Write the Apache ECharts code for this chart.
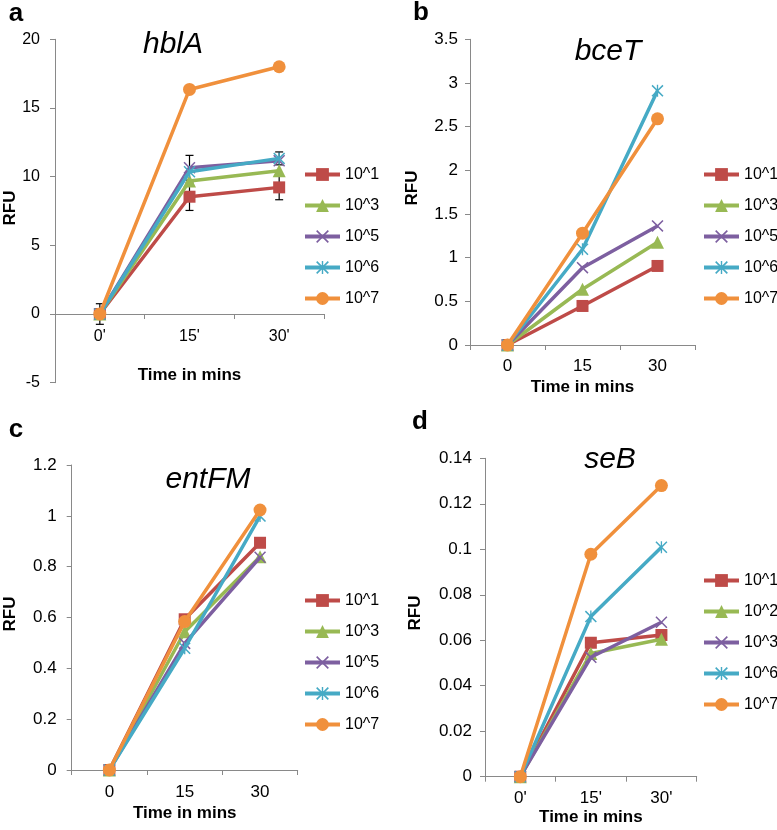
<!DOCTYPE html>
<html>
<head>
<meta charset="utf-8">
<script src="https://cdn.jsdelivr.net/npm/echarts@6/dist/echarts.min.js"></script>
<style>html,body{margin:0;padding:0;background:#fff}#c{width:777px;height:830px}</style>
</head>
<body>
<div id="c"></div>
<script>
// ---- categories / tick labels ----
const timesA = ["0'", "15'", "30'"];
const timesB = ["0", "15", "30"];
const timesC = ["0", "15", "30"];
const timesD = ["0'", "15'", "30'"];
const legendABC = ['10^1', '10^3', '10^5', '10^6', '10^7'];
const legendD = ['10^1', '10^2', '10^3', '10^6', '10^7'];

// ---- panel a: hblA ----
const hblA_1 = [0, 8.54, 9.22];
const hblA_3 = [0, 9.68, 10.43];
const hblA_5 = [0, 10.65, 11.16];
const hblA_6 = [0, 10.36, 11.33];
const hblA_7 = [0, 16.35, 18.0];
// error bars (panel a)
const hblA_err1 = [0.75, 1.0, 0.9];
const hblA_err5 = [0, 0.9, 0];
const hblA_err6 = [0, 0, 0.47];

// ---- panel b: bceT ----
const bceT_1 = [0, 0.447, 0.905];
const bceT_3 = [0, 0.638, 1.176];
const bceT_5 = [0, 0.885, 1.363];
const bceT_6 = [0, 1.096, 2.91];
const bceT_7 = [0, 1.28, 2.59];

// ---- panel c: entFM ----
const entFM_1 = [0, 0.593, 0.894];
const entFM_3 = [0, 0.544, 0.839];
const entFM_5 = [0, 0.498, 0.837];
const entFM_6 = [0, 0.479, 0.999];
const entFM_7 = [0, 0.584, 1.023];

// ---- panel d: seB ----
const seB_1 = [0, 0.0589, 0.0623];
const seB_2 = [0, 0.0542, 0.0604];
const seB_3 = [0, 0.0525, 0.0679];
const seB_6 = [0, 0.0704, 0.1009];
const seB_7 = [0, 0.0978, 0.128];

const COLORS = ['#BE4B48', '#98B954', '#7D5FA0', '#46AAC5', '#F0903C'];
const X_PATH = 'path://M0,0.9 L0.9,0 L5,4.1 L9.1,0 L10,0.9 L5.9,5 L10,9.1 L9.1,10 L5,5.9 L0.9,10 L0,9.1 L4.1,5 Z';
const STAR_PATH = X_PATH.replace(' Z', ' Z M4.45,0 L5.55,0 L5.55,10 L4.45,10 Z');
const SYMBOLS = [
  {symbol: 'rect', size: 12},
  {symbol: 'triangle', size: 13},
  {symbol: X_PATH, size: 12},
  {symbol: STAR_PATH, size: 12},
  {symbol: 'circle', size: 13}
];
const FONT = 'Liberation Sans, Arial, Helvetica, sans-serif';

const panels = [
  {key: 'a', cats: timesA, names: legendABC, data: [hblA_1, hblA_3, hblA_5, hblA_6, hblA_7],
   grid: {left: 55, top: 39.3, width: 269, height: 343.4}, y: {min: -5, max: 20, interval: 5},
   yMargin: 15, xMargin: 15, nameGap: 53, tickFont: 16, xOffset: -343.4 / 25 * 5,
   legend: {left: 303, top: 166.5}},
  {key: 'b', cats: timesB, names: legendABC, data: [bceT_1, bceT_3, bceT_5, bceT_6, bceT_7],
   grid: {left: 470, top: 39.3, width: 225, height: 305.7}, y: {min: 0, max: 3.5, interval: 0.5},
   yMargin: 12, xMargin: 13, nameGap: 34, tickFont: 17, xOffset: 0,
   legend: {left: 702, top: 166.5}},
  {key: 'c', cats: timesC, names: legendABC, data: [entFM_1, entFM_3, entFM_5, entFM_6, entFM_7],
   grid: {left: 71.7, top: 465, width: 226, height: 305}, y: {min: 0, max: 1.2, interval: 0.2},
   yMargin: 15, xMargin: 14, nameGap: 35, tickFont: 17, xOffset: 0,
   legend: {left: 303, top: 592.5}},
  {key: 'd', cats: timesD, names: legendD, data: [seB_1, seB_2, seB_3, seB_6, seB_7],
   grid: {left: 485, top: 458.3, width: 211.7, height: 318.4}, y: {min: 0, max: 0.14, interval: 0.02},
   yMargin: 13, xMargin: 13, nameGap: 32, tickFont: 17, xOffset: 0,
   legend: {left: 702, top: 572.5}}
];

const axisColor = '#898989';
const option = {
  animation: false,
  backgroundColor: '#fff',
  textStyle: {fontFamily: FONT},
  grid: [], xAxis: [], yAxis: [], legend: [], series: [], graphic: []
};

panels.forEach((p, i) => {
  option.grid.push(Object.assign({outerBoundsMode: 'none', containLabel: false}, p.grid));
  option.xAxis.push({
    type: 'category', gridIndex: i, data: p.cats, boundaryGap: true, position: 'bottom', offset: p.xOffset,
    name: 'Time in mins', nameLocation: 'middle', nameGap: p.nameGap,
    nameTextStyle: {fontFamily: FONT, fontWeight: 'bold', fontSize: 17, color: '#000', verticalAlign: 'top'},
    axisLine: {show: true, onZero: false, lineStyle: {color: axisColor, width: 1}},
    axisTick: {show: true, length: 5, lineStyle: {color: axisColor}},
    axisLabel: {fontFamily: FONT, fontSize: p.tickFont, color: '#000', margin: p.xMargin},
    splitLine: {show: false}
  });
  option.yAxis.push({
    type: 'value', gridIndex: i, min: p.y.min, max: p.y.max, interval: p.y.interval,
    axisLine: {show: true, lineStyle: {color: axisColor, width: 1}},
    axisTick: {show: true, length: 5, lineStyle: {color: axisColor}},
    axisLabel: {fontFamily: FONT, fontSize: p.tickFont, color: '#000', margin: p.yMargin},
    splitLine: {show: false}
  });
  option.legend.push({
    orient: 'vertical', left: p.legend.left, top: p.legend.top, padding: 0,
    itemWidth: 35, itemHeight: 16, itemGap: 15, selectedMode: false,
    lineStyle: {width: 4},
    data: p.names.map(n => p.key + '|' + n),
    formatter: n => n.split('|')[1],
    textStyle: {fontFamily: FONT, fontSize: 16, color: '#000', lineHeight: 16}
  });
  p.names.forEach((n, j) => {
    option.series.push({
      type: 'line', name: p.key + '|' + n, xAxisIndex: i, yAxisIndex: i,
      data: p.data[j], symbol: SYMBOLS[j].symbol, symbolSize: SYMBOLS[j].size,
      showAllSymbol: true, color: COLORS[j],
      lineStyle: {width: 3.5, color: COLORS[j]}, itemStyle: {color: COLORS[j]},
      z: 3 + j
    });
  });
});

// error bars for panel a
const errData = [];
[[hblA_1, hblA_err1], [hblA_5, hblA_err5], [hblA_6, hblA_err6]].forEach(([vals, errs]) => {
  vals.forEach((v, k) => { if (errs[k] > 0) errData.push([k, v, errs[k]]); });
});
option.series.push({
  type: 'custom', xAxisIndex: 0, yAxisIndex: 0, data: errData, z: 2,
  encode: {x: 0, y: 1}, silent: true,
  renderItem: (params, api) => {
    const x = api.value(0), v = api.value(1), e = api.value(2);
    const hi = api.coord([x, v + e]), lo = api.coord([x, v - e]);
    const w = 4, st = {stroke: '#000', lineWidth: 1.2};
    return {type: 'group', children: [
      {type: 'line', shape: {x1: hi[0], y1: hi[1], x2: lo[0], y2: lo[1]}, style: st},
      {type: 'line', shape: {x1: hi[0] - w, y1: hi[1], x2: hi[0] + w, y2: hi[1]}, style: st},
      {type: 'line', shape: {x1: lo[0] - w, y1: lo[1], x2: lo[0] + w, y2: lo[1]}, style: st}
    ]};
  }
});

function txt(x, y, text, font, rot) {
  return {type: 'text', x: x, y: y, rotation: rot || 0, z: 10,
    style: {text: text, font: font, fill: '#000', align: 'center', verticalAlign: 'middle',
            textAlign: 'center', textVerticalAlign: 'middle'}};
}
const titleFont = 'italic 30px ' + FONT;
const letterFont = 'bold 26px ' + FONT;
const rfuFont = 'bold 17px ' + FONT;
option.graphic = [
  txt(16, 14, 'a', letterFont), txt(421, 13, 'b', letterFont),
  txt(16, 430, 'c', letterFont), txt(420, 422, 'd', letterFont),
  txt(173, 45, 'hblA', titleFont), txt(608, 52, 'bceT', titleFont),
  txt(208, 480, 'entFM', titleFont), txt(610, 460, 'seB', titleFont),
  txt(10, 208, 'RFU', rfuFont, Math.PI / 2), txt(412, 188, 'RFU', rfuFont, Math.PI / 2),
  txt(10, 614, 'RFU', rfuFont, Math.PI / 2), txt(415, 613, 'RFU', rfuFont, Math.PI / 2)
];

const chart = echarts.init(document.getElementById('c'), null, {renderer: 'canvas'});
chart.setOption(option);
</script>
</body>
</html>
